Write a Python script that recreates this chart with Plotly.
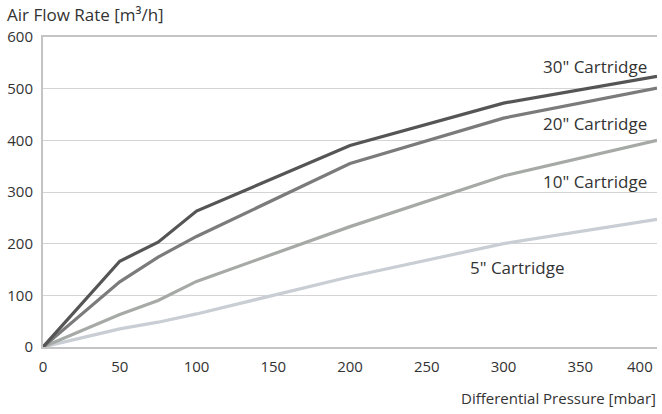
import plotly.graph_objects as go

pressure = [0, 50, 75, 100, 200, 300, 400]
flow_30 = [0, 166, 203, 263, 390, 472, 524]
flow_20 = [0, 126, 174, 214, 355, 443, 501]
flow_10 = [0, 63, 90, 127, 233, 331, 400]
flow_5 = [0, 35, 48, 64, 136, 200, 247]

series = [
    ("30\" Cartridge", flow_30, "#555555"),
    ("20\" Cartridge", flow_20, "#7b7b7b"),
    ("10\" Cartridge", flow_10, "#a6aaa6"),
    ("5\" Cartridge", flow_5, "#c9ced4"),
]
labels = [
    ("30\" Cartridge", 395, 543, "right"),
    ("20\" Cartridge", 395, 433, "right"),
    ("10\" Cartridge", 395, 321, "right"),
    ("5\" Cartridge", 309, 153, "center"),
]
x_ticks = [0, 50, 100, 150, 200, 250, 300, 350, 400]
x_ticktext = ["0", "50", "100", "150", "200", "250", "300", "350", "400"]
y_ticks = [0, 100, 200, 300, 400, 500, 600]

FONT = "'Open Sans', sans-serif"
fig = go.Figure()
for name, ys, col in series[::-1]:
    fig.add_trace(go.Scatter(x=pressure, y=ys, mode="lines", name=name,
                             line=dict(color=col, width=3.2), hoverinfo="skip"))

for text, x, y, al in labels:
    fig.add_annotation(x=x, y=y, text=text, showarrow=False,
                       xanchor=al, yanchor="middle",
                       font=dict(family=FONT, size=17, color="#333333"))

# last x tick label is drawn flush with the right edge, as in the original
fig.add_annotation(xref="paper", yref="paper", x=0.997, y=-0.061,
                   xanchor="right", yanchor="middle", text=x_ticktext[-1],
                   showarrow=False, font=dict(family=FONT, size=15, color="#333333"))

fig.add_annotation(xref="paper", yref="paper", x=-0.062, y=1.071,
                   xanchor="left", yanchor="middle", text="Air Flow Rate [m³/h]",
                   showarrow=False, font=dict(family=FONT, size=17, color="#333333"))
fig.add_annotation(xref="paper", yref="paper", x=1.002, y=-0.165,
                   xanchor="right", yanchor="middle", text="Differential Pressure [mbar]",
                   showarrow=False, font=dict(family=FONT, size=15, color="#333333"))

fig.update_layout(
    width=662, height=414,
    margin=dict(l=43, r=5, t=37, b=67),
    paper_bgcolor="white", plot_bgcolor="white",
    showlegend=False,
    font=dict(family=FONT, size=15, color="#333333"),
    xaxis=dict(range=[0, 400], tickvals=x_ticks[:-1], ticktext=x_ticktext[:-1],
               automargin=False,
               showgrid=False, zeroline=False, showline=True, mirror=True,
               linecolor="#c4c4c4", linewidth=2, ticks="outside", ticklen=5,
               tickcolor="rgba(0,0,0,0)",
               tickfont=dict(size=15, color="#333333")),
    yaxis=dict(range=[0, 600], tickvals=y_ticks, showgrid=True, automargin=False,
               gridcolor="#d4d4d4", gridwidth=1.3, zeroline=False,
               showline=True, linecolor="#c4c4c4", linewidth=2,
               ticks="outside", ticklen=5, tickcolor="rgba(0,0,0,0)",
               tickfont=dict(size=15, color="#333333")),
)
fig.write_html("out.html", config={"displayModeBar": False},
               post_script="document.body.style.margin='0';")
